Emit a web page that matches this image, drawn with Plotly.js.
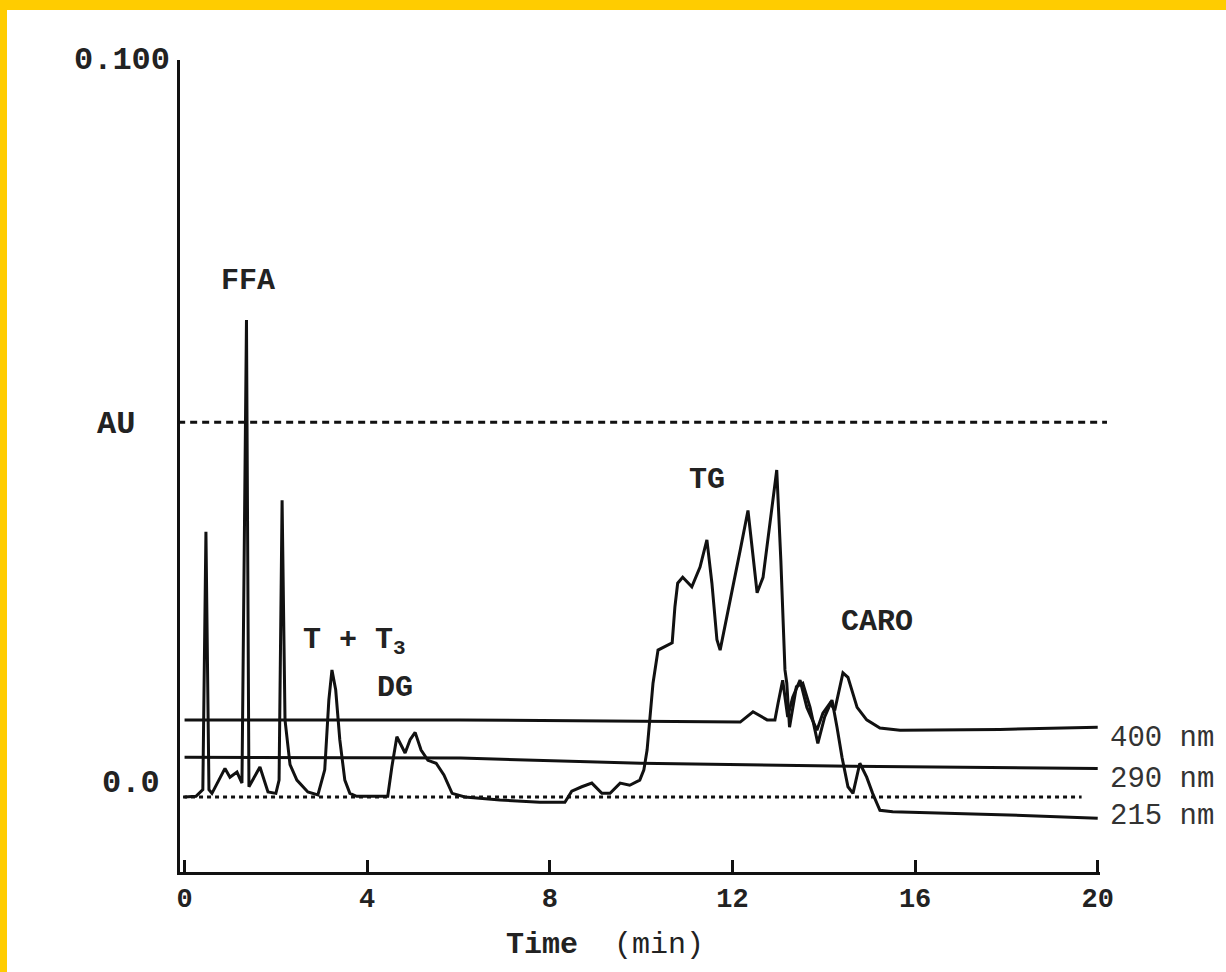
<!DOCTYPE html>
<html>
<head>
<meta charset="utf-8">
<script src="https://cdn.plot.ly/plotly-3.0.1.min.js"></script>
<style>
html,body{margin:0;padding:0;background:#FFCC00;width:1226px;height:972px;overflow:hidden;}
#chart{position:absolute;left:7px;top:10px;width:1219px;height:962px;background:#fff;}
</style>
</head>
<body>
<div id="chart"></div>
<script>
// Time axis (min) and absorbance (AU)
const time215 = [0, 0.25, 0.40, 0.468, 0.534, 0.60, 0.885, 0.994, 1.148, 1.257, 1.356, 1.41, 1.651, 1.827, 2.0, 2.07, 2.136, 2.2, 2.31, 2.46, 2.70, 2.92, 3.07, 3.16, 3.228, 3.31, 3.40, 3.51, 3.62, 3.77, 4.45, 4.54, 4.65, 4.83, 4.94, 5.05, 5.18, 5.33, 5.51, 5.68, 5.86, 6.14, 6.91, 7.78, 8.33, 8.48, 8.70, 8.92, 9.14, 9.32, 9.54, 9.75, 9.97, 10.06, 10.13, 10.26, 10.37, 10.52, 10.68, 10.74, 10.80, 10.91, 11.11, 11.29, 11.44, 11.55, 11.66, 11.73, 11.88, 12.17, 12.34, 12.54, 12.67, 12.97, 13.06, 13.15, 13.19, 13.25, 13.40, 13.54, 13.70, 13.87, 14.02, 14.18, 14.29, 14.40, 14.53, 14.64, 14.79, 14.94, 15.07, 15.23, 15.51, 17.86, 20.0];
const abs215 = [0, 0.0001, 0.0010, 0.0361, 0.0010, 0.0005, 0.0039, 0.0027, 0.0034, 0.0019, 0.0649, 0.0014, 0.0041, 0.0007, 0.0005, 0.0023, 0.0404, 0.0105, 0.0044, 0.0023, 0.0007, 0.0003, 0.0037, 0.0132, 0.0173, 0.0146, 0.0078, 0.0023, 0.0005, 0.0001, 0.0001, 0.0041, 0.0082, 0.0060, 0.0078, 0.0088, 0.0064, 0.0050, 0.0046, 0.0030, 0.0005, 0, -0.0004, -0.0007, -0.0007, 0.0008, 0.0014, 0.0019, 0.0005, 0.0005, 0.0019, 0.0016, 0.0023, 0.0037, 0.0064, 0.0155, 0.0200, 0.0205, 0.0210, 0.0259, 0.0291, 0.0299, 0.0286, 0.0313, 0.0350, 0.0291, 0.0214, 0.0200, 0.0245, 0.0336, 0.0390, 0.0278, 0.0299, 0.0445, 0.0322, 0.0173, 0.0155, 0.0095, 0.0150, 0.0155, 0.0122, 0.0073, 0.0109, 0.0132, 0.0095, 0.0054, 0.0014, 0.0005, 0.0046, 0.0027, 0.0005, -0.0018, -0.0020, -0.0024, -0.0029];

const time290 = [0, 6.05, 9.99, 14.6, 20.0];
const abs290 = [0.0054, 0.0053, 0.0046, 0.0042, 0.0039];

const time400 = [0, 6.03, 12.17, 12.45, 12.76, 12.93, 13.0, 13.10, 13.21, 13.32, 13.48, 13.63, 13.85, 13.98, 14.14, 14.24, 14.42, 14.53, 14.73, 14.94, 15.23, 15.67, 17.86, 20.0];
const abs400 = [0.0105, 0.0105, 0.0102, 0.0116, 0.0105, 0.0105, 0.0128, 0.0159, 0.0109, 0.0136, 0.0159, 0.0122, 0.0091, 0.0114, 0.0128, 0.0118, 0.0169, 0.0163, 0.0122, 0.0105, 0.0094, 0.0091, 0.0092, 0.0095];

const xTickVals = [0, 4, 8, 12, 16, 20];
const xTickText = ["0", "4", "8", "12", "16", "20"];

const yLabelVals = [0.1003, 0.0507, 0.0019];
const yLabelText = ["0.100", "AU", "0.0"];
const auLevel = 0.051;
const zeroLevel = 0;

const peakNames = ["FFA", "T + T<sub>3</sub>", "DG", "TG", "CARO"];
const peakTimes = [1.39, 3.73, 4.61, 11.44, 15.16];
const peakLabelAbs = [0.0702, 0.0212, 0.0148, 0.0431, 0.0238];

const waveNames = ["400 nm", "290 nm", "215 nm"];
const waveLabelAbs = [0.0079, 0.00245, -0.0027];

const FONT = "Liberation Mono, Courier New, monospace";
const INK = "#111";

const lineStyle = {color: INK, width: 3};
const traces = [
  {x: time400, y: abs400, type: "scatter", mode: "lines", line: lineStyle, name: "400 nm", showlegend: false, hoverinfo: "skip"},
  {x: time290, y: abs290, type: "scatter", mode: "lines", line: lineStyle, name: "290 nm", showlegend: false, hoverinfo: "skip"},
  {x: time215, y: abs215, type: "scatter", mode: "lines", line: {color: INK, width: 3}, name: "215 nm", showlegend: false, hoverinfo: "skip"}
];

const annotations = [];
for (let i = 0; i < peakNames.length; i++) {
  annotations.push({x: peakTimes[i], y: peakLabelAbs[i], xref: "x", yref: "y", text: peakNames[i],
    showarrow: false, xanchor: "center", yanchor: "middle",
    font: {family: FONT, size: 30, color: "#222", weight: "bold"}});
}
for (let i = 0; i < waveNames.length; i++) {
  annotations.push({x: 1.0087, y: waveLabelAbs[i], xref: "paper", yref: "y", text: waveNames[i],
    showarrow: false, xanchor: "left", yanchor: "middle",
    font: {family: FONT, size: 29, color: "#333"}});
}
const yShift = [-8, -43, -18];
for (let i = 0; i < yLabelText.length; i++) {
  annotations.push({x: 0, y: yLabelVals[i], xref: "paper", yref: "y", text: yLabelText[i],
    showarrow: false, xanchor: "right", yanchor: "middle", xshift: yShift[i],
    font: {family: FONT, size: 32, color: "#222", weight: "bold"}});
}
annotations.push({x: 0.462, y: -0.09, xref: "paper", yref: "paper",
  text: "<b>Time</b>&nbsp;&nbsp;(min)", showarrow: false, xanchor: "center", yanchor: "middle",
  font: {family: FONT, size: 30, color: "#222"}});

const shapes = [
  {type: "line", xref: "paper", yref: "y", x0: -0.002, x1: 1.0076, y0: auLevel, y1: auLevel,
   line: {color: INK, width: 3, dash: "7px,5px"}},
  {type: "line", xref: "paper", yref: "y", x0: 0.0033, x1: 0.98, y0: zeroLevel, y1: zeroLevel,
   line: {color: INK, width: 3, dash: "4px,4px"}}
];

const layout = {
  width: 1219, height: 962,
  margin: {l: 173, r: 126, t: 50, b: 100, pad: 0},
  paper_bgcolor: "#ffffff", plot_bgcolor: "#ffffff",
  showlegend: false,
  xaxis: {range: [-0.1, 20.05], showgrid: false, zeroline: false, showline: true,
    linecolor: INK, linewidth: 3, ticks: "inside", ticklen: 12, tickwidth: 3, tickcolor: INK,
    tickvals: xTickVals, ticktext: xTickText,
    tickfont: {family: FONT, size: 27, color: "#222", weight: "bold"}},
  yaxis: {range: [-0.0102, 0.1003], showgrid: false, zeroline: false, showline: true,
    linecolor: INK, linewidth: 3, ticks: "", showticklabels: false},
  annotations: annotations,
  shapes: shapes
};

Plotly.newPlot("chart", traces, layout, {displayModeBar: false, staticPlot: true});
</script>
</body>
</html>
